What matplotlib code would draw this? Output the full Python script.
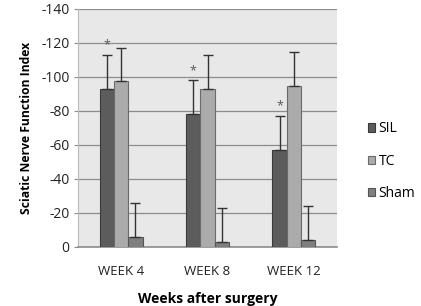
import matplotlib
matplotlib.use("Agg")
import matplotlib.pyplot as plt
import numpy as np

categories = ["WEEK 4", "WEEK 8", "WEEK 12"]
series = ["SIL", "TC", "Sham"]
sil = [-93, -78, -57]
tc = [-97.5, -93, -95]
sham = [-6, -3, -4]
sil_err = [20, 20, 20]
tc_err = [19.5, 20, 20]
sham_err = [20, 20, 20]
yticks = [0, -20, -40, -60, -80, -100, -120, -140]
colors = ["#5c5c5c", "#ababab", "#7f7f7f"]
edges = ["#3a3a3a", "#6a6a6a", "#555555"]

plt.rcParams['font.family'] = ['Open Sans', 'DejaVu Sans']

fig = plt.figure(figsize=(4.21, 3.06), dpi=100)
ax = fig.add_axes([78/421, 1-247/306, (337-78)/421, (247-9)/306])
ax.set_facecolor("#e8e8e8")

x = np.arange(len(categories))
w = 0.165
vals = [sil, tc, sham]
errs = [sil_err, tc_err, sham_err]
for i, (v, e) in enumerate(zip(vals, errs)):
    xs = x + (i - 1) * w
    ax.bar(xs, v, width=w, color=colors[i], edgecolor=edges[i], linewidth=0.8,
           label=series[i], zorder=3)
    ax.errorbar(xs, v, yerr=[e, [0]*3], fmt="none", ecolor="#333333",
                elinewidth=1.0, capsize=3.5, capthick=1.0, zorder=4)

# asterisks above SIL error bars
for xi, v, e in zip(x - w, sil, sil_err):
    ax.text(xi, v - e - 2, "*", ha="center", va="bottom", fontsize=9, color="#555555", zorder=5)

ax.set_ylim(0, -140)
ax.set_yticks(yticks)
ax.set_yticklabels([str(t) for t in yticks], fontsize=10, color="#222222")
ax.set_xlim(-0.5, 2.5)
ax.set_xticks(x)
ax.set_xticklabels(categories, fontsize=9.5, color="#222222")
ax.yaxis.grid(True, color="#8c8c8c", linewidth=0.9, zorder=0)
ax.set_axisbelow(True)
ax.tick_params(axis="y", length=3, color="#8c8c8c", pad=3)
ax.tick_params(axis="x", length=0, pad=13)
for s in ["top", "right"]:
    ax.spines[s].set_visible(False)
ax.spines["left"].set_color("#bbbbbb")
ax.spines["bottom"].set_color("#8c8c8c")
ax.spines["bottom"].set_linewidth(1.2)

ax.set_ylabel("Sciatic Nerve Function Index", fontsize=8.7, fontweight="bold", labelpad=6)
ax.set_xlabel("Weeks after surgery", fontsize=10, fontweight="bold", labelpad=10)

ax.legend(loc="center left", bbox_to_anchor=(1.07, 0.36), frameon=False, fontsize=10,
          handlelength=0.55, handleheight=0.55, handletextpad=0.25, labelspacing=1.25)

fig.savefig("out.png", dpi=100)
